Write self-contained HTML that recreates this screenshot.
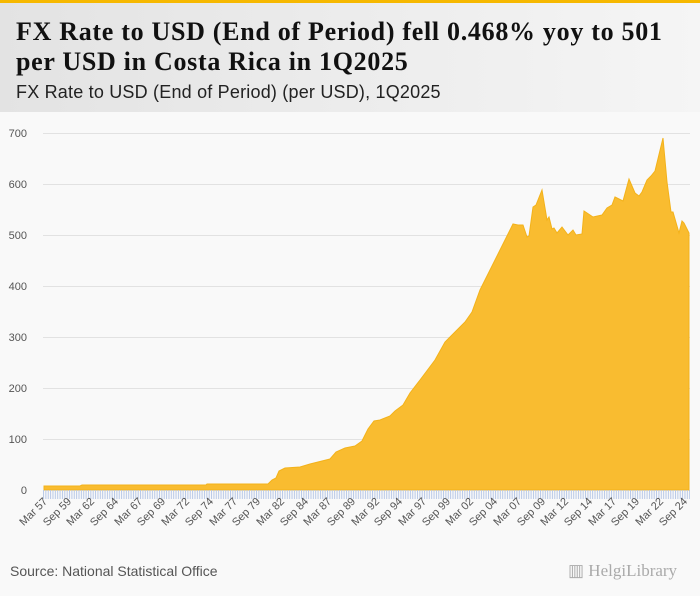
<!DOCTYPE html>
<html><head><meta charset="utf-8"><style>
body{margin:0;width:700px;height:596px;background:#f9f9f9;overflow:hidden;font-family:"Liberation Sans",sans-serif}
.top{position:absolute;left:0;top:0;width:700px;height:3px;background:#f6b800}
.hdr{position:absolute;left:0;top:3px;width:700px;height:109px;background:linear-gradient(90deg,#e3e3e3,#f5f5f5)}
h1{position:absolute;left:16px;top:17px;margin:0;font:bold 26px/30px "Liberation Serif",serif;letter-spacing:0.7px;color:#111;width:690px;white-space:nowrap}
.sub{position:absolute;left:16px;top:82px;font-size:18px;color:#222;letter-spacing:0.2px}
.src{position:absolute;left:10px;top:563px;font-size:14px;color:#555}
.logo{position:absolute;left:568px;top:561px;font:17px "Liberation Serif",serif;color:#aaa;white-space:nowrap}
</style></head><body>
<div class="top"></div><div class="hdr"></div>
<h1>FX Rate to USD (End of Period) fell 0.468% yoy to 501<br>per USD in Costa Rica in 1Q2025</h1>
<div class="sub">FX Rate to USD (End of Period) (per USD), 1Q2025</div>
<svg width="700" height="596" style="position:absolute;left:0;top:0">
<defs><pattern id="tk" x="43" y="0" width="2.367" height="10" patternUnits="userSpaceOnUse"><line x1="0.5" y1="0" x2="0.5" y2="10" stroke="#b8c8e6" stroke-width="1"/></pattern></defs>
<g stroke="#e2e2e2" stroke-width="1">
<line x1="43" x2="690" y1="133.5" y2="133.5"/><line x1="43" x2="690" y1="184.5" y2="184.5"/><line x1="43" x2="690" y1="235.5" y2="235.5"/><line x1="43" x2="690" y1="286.5" y2="286.5"/><line x1="43" x2="690" y1="337.5" y2="337.5"/><line x1="43" x2="690" y1="388.5" y2="388.5"/><line x1="43" x2="690" y1="439.5" y2="439.5"/>
</g>
<g font-size="11" fill="#555" text-anchor="end">
<text x="27" y="137">700</text><text x="27" y="188">600</text><text x="27" y="239">500</text><text x="27" y="290">400</text><text x="27" y="341">300</text><text x="27" y="392">200</text><text x="27" y="443">100</text><text x="27" y="494">0</text>
</g>
<path fill="#f9bc30" stroke="#f3b21a" stroke-width="1" d="M44,490 L44,486 L80,486 L82,485 L206,485 L207,484 L268,484 L272,480 L276,478 L279,471 L285,468 L300,467 L310,464 L330,459 L336,452 L345,448 L355,446 L362,441 L368,429 L374,421 L380,420 L390,416 L395,411 L403,405 L410,393 L420,380 L435,360 L445,342 L455,332 L465,322 L472,312 L480,290 L490,270 L500,250 L508,234 L513,224 L518,225 L523,225 L527,237 L529,236 L533,207 L536,205 L542,190 L547,220 L549,217 L552,229 L554,228 L557,233 L562,227 L568,235 L573,230 L576,235 L582,234 L584,211 L593,217 L602,215 L607,208 L612,205 L615,197 L623,201 L629,179 L635,193 L639,196 L642,192 L647,180 L651,176 L655,171 L663,138 L667,182 L671,212 L673,212 L679,233 L682,221 L684,223 L689,233 L689,490 Z"/>
<rect x="43" y="490" width="647" height="9" fill="url(#tk)"/>
<g font-size="11" fill="#555" text-anchor="end">
<text transform="translate(48,502) rotate(-45)">Mar 57</text><text transform="translate(72,502) rotate(-45)">Sep 59</text><text transform="translate(95,502) rotate(-45)">Mar 62</text><text transform="translate(119,502) rotate(-45)">Sep 64</text><text transform="translate(143,502) rotate(-45)">Mar 67</text><text transform="translate(166,502) rotate(-45)">Sep 69</text><text transform="translate(190,502) rotate(-45)">Mar 72</text><text transform="translate(214,502) rotate(-45)">Sep 74</text><text transform="translate(238,502) rotate(-45)">Mar 77</text><text transform="translate(261,502) rotate(-45)">Sep 79</text><text transform="translate(285,502) rotate(-45)">Mar 82</text><text transform="translate(309,502) rotate(-45)">Sep 84</text><text transform="translate(332,502) rotate(-45)">Mar 87</text><text transform="translate(356,502) rotate(-45)">Sep 89</text><text transform="translate(380,502) rotate(-45)">Mar 92</text><text transform="translate(403,502) rotate(-45)">Sep 94</text><text transform="translate(427,502) rotate(-45)">Mar 97</text><text transform="translate(451,502) rotate(-45)">Sep 99</text><text transform="translate(474,502) rotate(-45)">Mar 02</text><text transform="translate(498,502) rotate(-45)">Sep 04</text><text transform="translate(522,502) rotate(-45)">Mar 07</text><text transform="translate(546,502) rotate(-45)">Sep 09</text><text transform="translate(569,502) rotate(-45)">Mar 12</text><text transform="translate(593,502) rotate(-45)">Sep 14</text><text transform="translate(617,502) rotate(-45)">Mar 17</text><text transform="translate(640,502) rotate(-45)">Sep 19</text><text transform="translate(664,502) rotate(-45)">Mar 22</text><text transform="translate(688,502) rotate(-45)">Sep 24</text>
</g>
</svg>
<div class="src">Source: National Statistical Office</div>
<div class="logo">▥ HelgiLibrary</div>
</body></html>
